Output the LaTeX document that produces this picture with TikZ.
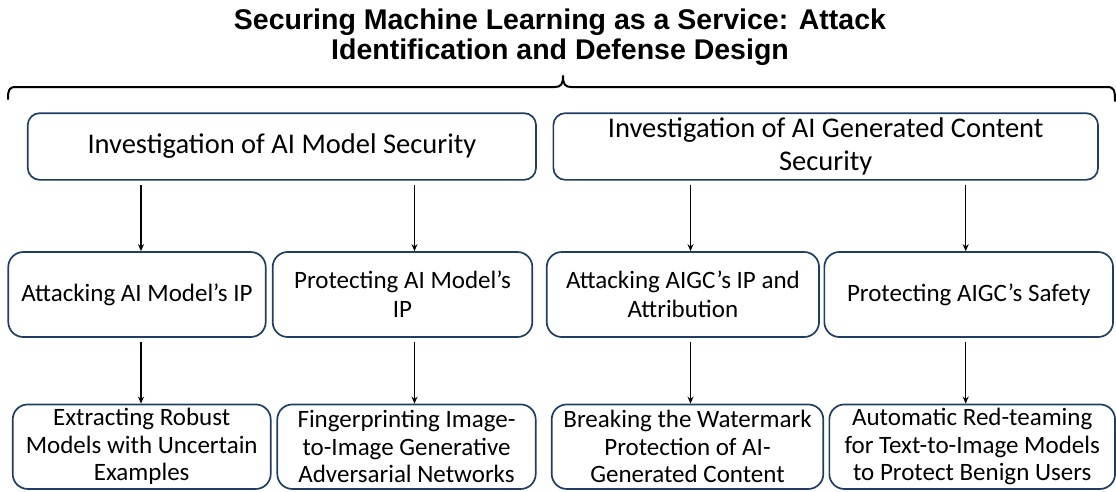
\documentclass[tikz,border=0pt]{standalone}
\usepackage{fontspec}
\setmainfont{Carlito}
\newfontfamily\boxfont{Carlito}
\newfontfamily\titlefont{Liberation Sans}
\usetikzlibrary{arrows.meta}
\definecolor{navy}{HTML}{203D63}
\tikzset{
  box/.style={draw=navy, line width=1.7pt, inner sep=0pt, align=center, text=black},
  topbox/.style={box, rounded corners=12pt, font=\boxfont\fontsize{28.5}{33}\selectfont},
  midbox/.style={box, rounded corners=15pt, font=\boxfont\fontsize{25}{29}\selectfont},
  lowbox/.style={box, rounded corners=15pt, font=\boxfont\fontsize{25}{27.5}\selectfont},
  sz/.style 2 args={minimum width=#1pt, minimum height=#2pt},
  arr/.style={line width=1.3pt, -{Stealth[length=7pt, width=6pt]}},
  bracestyle/.style={line width=2pt, line cap=round, line join=round}
}
\begin{document}
\begin{tikzpicture}[x=1pt, y=-1pt]
\useasboundingbox (0,0) rectangle (1116,491);

\node[font=\titlefont\bfseries\fontsize{28.5}{30}\selectfont, align=center] (title) at (560,37.5)
  {Securing Machine Learning as a Service: Attack\\Identification and Defense Design};

\draw[bracestyle] (8,99) .. controls (8,90) and (9,87) .. (16,87) -- (555,87)
  .. controls (561,87) and (563,84) .. (563,76)
  .. controls (563,84) and (565,87) .. (571,87) -- (1107,87)
  .. controls (1114,87) and (1115,90) .. (1115,101);

\node[topbox, sz={508.3}{66.7}] (A) at (281.9,146.5) {Investigation of AI Model Security};
\node[topbox, sz={544.7}{66.7}] (B) at (825.7,146.5) {Investigation of AI Generated Content\\Security};

\node[midbox, sz={257.4}{85}] (l2a) at (137,294.5) {Attacking AI Model’s IP};
\node[midbox, sz={259.6}{85}] (l2b) at (402.5,294.5) {Protecting AI Model’s\\IP};
\node[midbox, sz={272.3}{85}] (l2c) at (682.9,294.5) {Attacking AIGC’s IP and\\Attribution};
\node[midbox, sz={288.7}{85}] (l2d) at (968.7,294.5) {Protecting AIGC’s Safety};

\node[lowbox, sz={258}{84.5}] (l3a) at (141.7,446.7) {Extracting Robust\\Models with Uncertain\\Examples};
\node[lowbox, sz={258.4}{84.5}] (l3b) at (406.5,446.7) {Fingerprinting Image-\\to-Image Generative\\Adversarial Networks};
\node[lowbox, sz={271.6}{84.5}] (l3c) at (687.5,446.7) {Breaking the Watermark\\Protection of AI-\\Generated Content};
\node[lowbox, sz={285.7}{84.5}] (l3d) at (972.2,446.7) {Automatic Red-teaming\\for Text-to-Image Models\\to Protect Benign Users};

\coordinate (xa) at (141,0);
\coordinate (xb) at (414.5,0);
\coordinate (xc) at (690.5,0);
\coordinate (xd) at (965.7,0);

\draw[arr] ([yshift=-4pt]A.south -| xa) -- (l2a.north -| xa);
\draw[arr] ([yshift=-4pt]A.south -| xb) -- (l2b.north -| xb);
\draw[arr] ([yshift=-4pt]B.south -| xc) -- (l2c.north -| xc);
\draw[arr] ([yshift=-4pt]B.south -| xd) -- (l2d.north -| xd);

\draw[arr] ([yshift=-4pt]l2a.south -| xa) -- (l3a.north -| xa);
\draw[arr] ([yshift=-4pt]l2b.south -| xb) -- (l3b.north -| xb);
\draw[arr] ([yshift=-4pt]l2c.south -| xc) -- (l3c.north -| xc);
\draw[arr] ([yshift=-4pt]l2d.south -| xd) -- (l3d.north -| xd);
\end{tikzpicture}
\end{document}
